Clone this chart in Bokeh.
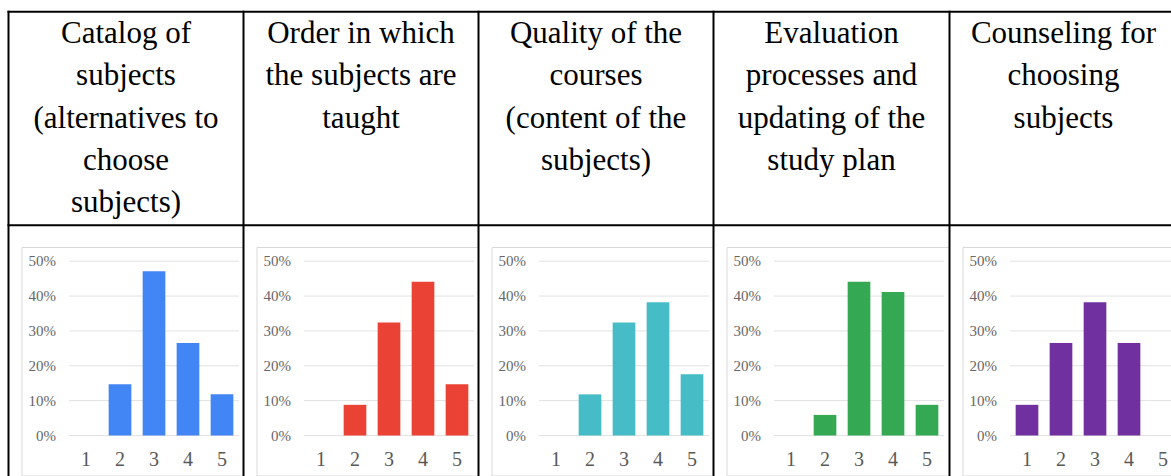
from bokeh.plotting import figure
from bokeh.models import Range1d
from bokeh.embed import file_html
from bokeh.resources import INLINE
from bokeh.core.properties import value

# ---- data -------------------------------------------------------------
headers = [
    "Catalog of\nsubjects\n(alternatives to\nchoose\nsubjects)",
    "Order in which\nthe subjects are\ntaught",
    "Quality of the\ncourses\n(content of the\nsubjects)",
    "Evaluation\nprocesses and\nupdating of the\nstudy plan",
    "Counseling for\nchoosing\nsubjects",
]
ratings = [1, 2, 3, 4, 5]
rating_labels = ["1", "2", "3", "4", "5"]

catalog_pct = [0.0, 14.7, 47.1, 26.5, 11.8]
order_pct = [0.0, 8.8, 32.4, 44.1, 14.7]
quality_pct = [0.0, 11.8, 32.4, 38.2, 17.6]
evaluation_pct = [0.0, 5.9, 44.1, 41.2, 8.8]
counseling_pct = [8.8, 26.5, 38.2, 26.5, 0.0]

series = [catalog_pct, order_pct, quality_pct, evaluation_pct, counseling_pct]
colors = ["#4285F4", "#EA4335", "#46BDC6", "#34A853", "#7030A0"]

pct_ticks = [0, 10, 20, 30, 40, 50]
pct_tick_labels = ["0%", "10%", "20%", "30%", "40%", "50%"]

# ---- page geometry (pixels, measured from the top-left corner) ---------
W, H = 1171, 476
col_x = [8, 243, 478, 713, 949, 1177]      # table column borders
table_top, header_bottom = 11.3, 224.7
first_line_mid, line_step = 32.0, 42.3
panel_inset, panel_top, panel_bottom = 13.5, 247.0, 475.5
plot_left_in_panel = 47.0                    # panel edge -> first band
band_px = 34.0                               # width of one rating band
zero_px, px_per_pct = 435.0, 3.486           # 0% line and vertical scale

serif = value("Liberation Serif")

p = figure(
    width=W, height=H,
    x_range=Range1d(0, W), y_range=Range1d(H, 0),
    x_axis_location=None, y_axis_location=None,
    toolbar_location=None, output_backend="svg",
    min_border=0, outline_line_color=None,
    background_fill_color="white", border_fill_color="white",
)
p.grid.visible = False

# shared percentage scale for the five small bar charts
p.extra_y_ranges["pct"] = Range1d(-(H - zero_px) / px_per_pct, zero_px / px_per_pct)

# ---- chart panels ------------------------------------------------------
for i, (vals, color) in enumerate(zip(series, colors)):
    left = col_x[i] + panel_inset
    right = col_x[i + 1]
    # panel frame
    p.quad(left=[left], right=[right], top=[panel_top], bottom=[panel_bottom],
           fill_color="white", line_color="#d9d9d9", line_width=1)

    plot_left = left + plot_left_in_panel
    name = f"panel{i}"
    p.extra_x_ranges[name] = Range1d(0.5 - plot_left / band_px,
                                     0.5 + (W - plot_left) / band_px)

    # horizontal gridlines across the five rating bands
    p.segment(x0=[0.5] * len(pct_ticks), x1=[5.5] * len(pct_ticks),
              y0=pct_ticks, y1=pct_ticks, line_color="#e2e2e2", line_width=1,
              x_range_name=name, y_range_name="pct")

    p.vbar(x=ratings, top=vals, bottom=0, width=0.667,
           fill_color=color, line_color=None,
           x_range_name=name, y_range_name="pct")

    # y tick labels
    p.text(x=[0.5] * len(pct_ticks), y=pct_ticks, text=pct_tick_labels,
           x_offset=-13, y_offset=0,
           text_align="right", text_baseline="middle",
           text_font=serif, text_font_size="15px", text_color="#666666",
           x_range_name=name, y_range_name="pct")

    # x tick labels (rating scale)
    p.text(x=ratings, y=[0] * len(ratings), text=rating_labels,
           y_offset=23.5, text_align="center", text_baseline="middle",
           text_font=serif, text_font_size="20px", text_color="#595959",
           x_range_name=name, y_range_name="pct")

# ---- table header text -------------------------------------------------
hx, hy, ht = [], [], []
for i, title in enumerate(headers):
    cx = (col_x[i] + col_x[i + 1]) / 2
    for k, line in enumerate(title.split("\n")):
        hx.append(cx)
        hy.append(first_line_mid + k * line_step)
        ht.append(line)
p.text(x=hx, y=hy, text=ht, text_align="center", text_baseline="middle",
       text_font=serif, text_font_size="31px", text_color="black")

# ---- table rules -------------------------------------------------------
p.segment(x0=col_x, x1=col_x, y0=[table_top - 1] * len(col_x), y1=[H] * len(col_x),
          line_color="black", line_width=2)
p.segment(x0=[col_x[0] - 1] * 2, x1=[col_x[-1] + 1] * 2,
          y0=[table_top, header_bottom], y1=[table_top, header_bottom],
          line_color="black", line_width=2)

open("out.html", "w").write(file_html(p, INLINE))
